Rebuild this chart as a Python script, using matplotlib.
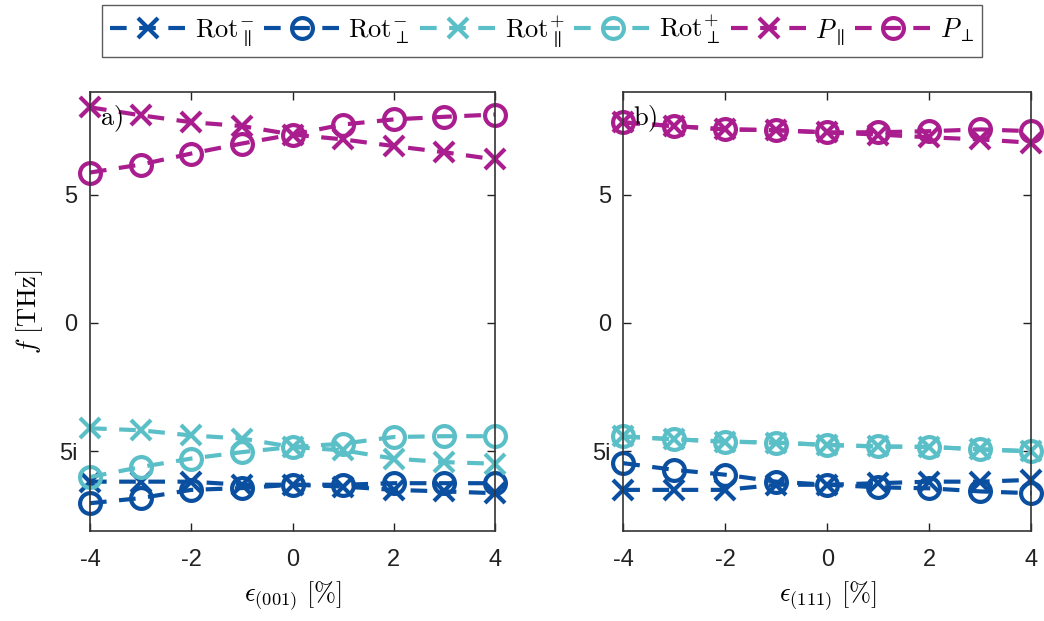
import numpy as np
import matplotlib
matplotlib.use("Agg")
import matplotlib.pyplot as plt

plt.rcParams['mathtext.fontset'] = 'cm'
plt.rcParams['font.family'] = ['Liberation Sans', 'DejaVu Sans']

# strain values
strain = [-4, -3, -2, -1, 0, 1, 2, 3, 4]

# panel a) (001) strain -- imaginary modes stored as negative numbers
a_rotm_par = [-6.18, -6.18, -6.18, -6.3, -6.3, -6.37, -6.5, -6.56, -6.63]
a_rotm_perp = [-7.02, -6.82, -6.5, -6.43, -6.3, -6.3, -6.24, -6.24, -6.24]
a_rotp_par = [-4.1, -4.18, -4.38, -4.5, -4.83, -4.96, -5.28, -5.42, -5.48]
a_rotp_perp = [-6.0, -5.61, -5.28, -5.03, -4.83, -4.7, -4.44, -4.41, -4.41]
a_p_par = [8.4, 8.09, 7.82, 7.67, 7.34, 7.15, 6.89, 6.65, 6.37]
a_p_perp = [5.86, 6.17, 6.6, 6.99, 7.34, 7.73, 7.93, 8.03, 8.12]

# panel b) (111) strain
b_rotm_par = [-6.5, -6.5, -6.5, -6.3, -6.3, -6.24, -6.18, -6.18, -6.11]
b_rotm_perp = [-5.46, -5.72, -5.91, -6.18, -6.3, -6.4, -6.44, -6.56, -6.63]
b_rotp_par = [-4.42, -4.53, -4.62, -4.66, -4.75, -4.81, -4.83, -4.92, -5.0]
b_rotp_perp = [-4.42, -4.53, -4.62, -4.66, -4.75, -4.81, -4.83, -4.92, -5.0]
b_p_par = [7.81, 7.67, 7.54, 7.51, 7.42, 7.34, 7.23, 7.15, 7.02]
b_p_perp = [7.81, 7.67, 7.54, 7.51, 7.42, 7.43, 7.47, 7.54, 7.47]

labels = [r'$\mathrm{Rot}_{\parallel}^{-}$', r'$\mathrm{Rot}_{\perp}^{-}$',
          r'$\mathrm{Rot}_{\parallel}^{+}$', r'$\mathrm{Rot}_{\perp}^{+}$',
          r'$P_{\parallel}$', r'$P_{\perp}$']

dark = '#0B50A0'
cyan = '#5BBFC8'
mag = '#A91D8E'
colors = [dark, dark, cyan, cyan, mag, mag]
markers = ['x', 'o', 'x', 'o', 'x', 'o']

fig = plt.figure(figsize=(10.44, 6.21), dpi=100)
ax_a = fig.add_axes([0.0862, 0.145, 0.388, 0.707])
ax_b = fig.add_axes([0.597, 0.145, 0.391, 0.707])

panels = [
    (ax_a, [a_rotm_par, a_rotm_perp, a_rotp_par, a_rotp_perp, a_p_par, a_p_perp],
     r'$\epsilon_{(001)}\ [\%]$', 'a'),
    (ax_b, [b_rotm_par, b_rotm_perp, b_rotp_par, b_rotp_perp, b_p_par, b_p_perp],
     r'$\epsilon_{(111)}\ [\%]$', 'b'),
]

handles = []
for ax, series, xlab, tag in panels:
    handles = []
    for ys, c, m, lab in zip(series, colors, markers, labels):
        h, = ax.plot(strain, ys, color=c, marker=m, linestyle=(0, (4, 3)),
                     linewidth=3, markersize=15, markeredgewidth=3,
                     markerfacecolor='none', label=lab, clip_on=False)
        handles.append(h)
    ax.set_xlim(-4, 4)
    ax.set_ylim(-8.1, 9)
    ax.set_xticks([-4, -2, 0, 2, 4])
    ax.set_xticklabels(['-4', '-2', '0', '2', '4'])
    ax.set_yticks([-5, 0, 5])
    ax.set_yticklabels(['5i', '0', '5'])
    ax.tick_params(direction='in', length=6, width=1, labelsize=17,
                   top=True, right=True, colors='#222222')
    ax.tick_params(axis='x', pad=13)
    ax.tick_params(axis='y', pad=9)
    for s in ax.spines.values():
        s.set_linewidth(1.2)
        s.set_color('#333333')
    ax.set_xlabel(xlab, fontsize=19, labelpad=6)
    ax.text(0.025, 0.94, r'$\mathrm{' + tag + ')}$', transform=ax.transAxes,
            fontsize=19, va='center', ha='left')

ax_a.set_ylabel(r'$f\ [\mathrm{THz}]$', fontsize=19, labelpad=10)

fig.legend(handles, labels, loc='upper center', bbox_to_anchor=(0.519, 1.0),
           ncol=6, fontsize=19, frameon=True, fancybox=False, edgecolor='#333333',
           handlelength=2.9, columnspacing=0.4, handletextpad=0.3,
           borderpad=0.3, borderaxespad=0.2)

fig.savefig('out.png', dpi=100)
